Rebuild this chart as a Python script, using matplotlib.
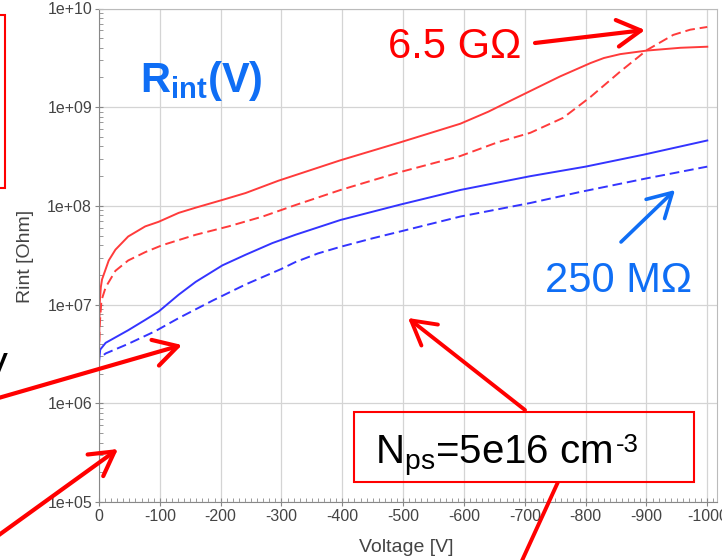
import numpy as np
import matplotlib
matplotlib.use('Agg')
import matplotlib.pyplot as plt
from matplotlib.patches import Rectangle
from matplotlib.ticker import LogLocator, MultipleLocator, FuncFormatter, NullFormatter

plt.rcParams['font.family'] = ['Liberation Sans', 'DejaVu Sans']
plt.rcParams['axes.unicode_minus'] = False
plt.rcParams['mathtext.fontset'] = 'custom'
plt.rcParams['mathtext.rm'] = 'Liberation Sans'
plt.rcParams['mathtext.it'] = 'Liberation Sans:italic'
plt.rcParams['mathtext.bf'] = 'Liberation Sans:bold'

# Interstrip resistance vs bias voltage
volt_red_solid = [0, -1, -3, -5, -16, -27, -48, -76, -98, -131, -159, -203, -241, -295,
                  -397, -495, -594, -640, -681, -758, -808, -830, -857, -901, -956, -1000]
rint_red_solid = [3.0e6, 1.0e7, 1.5e7, 1.8e7, 2.8e7, 3.6e7, 4.9e7, 6.2e7, 6.9e7, 8.5e7,
                  9.6e7, 1.15e8, 1.35e8, 1.8e8, 2.9e8, 4.4e8, 6.8e8, 9.0e8, 1.2e9, 2.05e9,
                  2.8e9, 3.15e9, 3.45e9, 3.75e9, 4.0e9, 4.1e9]

volt_red_dash = [0, -1, -3, -4, -11, -27, -48, -76, -104, -159, -213, -269, -323, -397,
                 -495, -594, -655, -709, -763, -808, -857, -901, -944, -972, -1000]
rint_red_dash = [3.0e6, 6.0e6, 9.0e6, 1.1e7, 1.5e7, 2.2e7, 2.8e7, 3.4e7, 4.0e7, 5.1e7,
                 6.2e7, 7.8e7, 1.02e8, 1.45e8, 2.2e8, 3.2e8, 4.4e8, 5.5e8, 7.8e8, 1.27e9,
                 2.3e9, 3.8e9, 5.4e9, 6.1e9, 6.5e9]

volt_blue_solid = [0, -2, -11, -48, -76, -98, -131, -159, -203, -241, -285, -323, -397,
                   -495, -594, -709, -800, -895, -1000]
rint_blue_solid = [2.6e6, 3.5e6, 4.1e6, 5.5e6, 7.0e6, 8.5e6, 1.26e7, 1.7e7, 2.5e7, 3.2e7,
                   4.2e7, 5.1e7, 7.2e7, 1.03e8, 1.45e8, 2.0e8, 2.5e8, 3.3e8, 4.6e8]

volt_blue_dash = [-8, -11, -48, -93, -131, -187, -241, -300, -323, -360, -397, -450, -495,
                  -594, -709, -790, -900, -1000]
rint_blue_dash = [3.1e6, 3.2e6, 4.0e6, 5.4e6, 7.3e6, 1.1e7, 1.6e7, 2.3e7, 2.7e7, 3.3e7,
                  3.85e7, 4.7e7, 5.5e7, 7.8e7, 1.07e8, 1.38e8, 1.9e8, 2.5e8]

xticks = list(range(0, -1001, -100))

RED = '#ff3b3b'
BLUE = '#3434ff'
ANN_RED = '#ff0000'
ANN_BLUE = '#0f6ef5'
GREY = '#444444'

fig = plt.figure(figsize=(7.22, 5.6), dpi=100)
ax = fig.add_axes([99 / 722, 1 - 502 / 560, 618 / 722, 493.5 / 560])

ax.plot(volt_red_solid, rint_red_solid, color=RED, lw=1.4)
ax.plot(volt_red_dash, rint_red_dash, color=RED, lw=1.4, ls=(0, (5, 2.5)))
ax.plot(volt_blue_solid, rint_blue_solid, color=BLUE, lw=1.4)
ax.plot(volt_blue_dash, rint_blue_dash, color=BLUE, lw=1.4, ls=(0, (5, 2.5)))

ax.set_yscale('log')
ax.set_ylim(1e5, 1e10)
ax.set_xlim(0, -1016)
ax.set_xticks(xticks)
ax.xaxis.set_minor_locator(MultipleLocator(10))
ax.yaxis.set_major_locator(LogLocator(base=10, numticks=10))
ax.yaxis.set_minor_locator(LogLocator(base=10, subs=np.arange(2, 10), numticks=50))
ax.yaxis.set_minor_formatter(NullFormatter())
ax.yaxis.set_major_formatter(FuncFormatter(lambda y, _: '1e+%02d' % int(round(np.log10(y)))))

ax.grid(True, which='major', color='#d4d4d4', lw=0.9)
ax.set_axisbelow(True)
ax.tick_params(which='major', direction='inout', length=6, width=0.8, color='#888888',
               labelsize=11.5, labelcolor=GREY, pad=2)
ax.tick_params(which='minor', direction='in', length=3, width=0.6, color='#888888')
for side in ['left', 'bottom']:
    ax.spines[side].set_color('#888888')
for side in ['top', 'right']:
    ax.spines[side].set_color('#bbbbbb')

# slide overlay in pixel coordinates
ov = fig.add_axes([0, 0, 1, 1], zorder=5)
ov.set_xlim(0, 722)
ov.set_ylim(560, 0)
ov.axis('off')
ov.patch.set_alpha(0)

ov.text(406, 548, 'Voltage [V]', ha='center', va='center', fontsize=14, color=GREY)
ov.text(26, 256, 'Rint [Ohm]', ha='center', va='center', rotation=90, fontsize=14, color=GREY)

ov.add_patch(Rectangle((-30, 15), 35, 173, fill=False, ec=ANN_RED, lw=1.5, clip_on=False))
ov.text(8, 380, 'V', ha='right', va='baseline', fontsize=28, color='black')

ov.text(140, 92, r'$\mathbf{R_{int}(V)}$', ha='left', va='baseline', fontsize=30, color=ANN_BLUE)
ov.text(388, 58, '6.5 GΩ', ha='left', va='baseline', fontsize=30, color=ANN_RED)
ov.text(545, 292, '250 MΩ', ha='left', va='baseline', fontsize=30, color=ANN_BLUE)

ov.add_patch(Rectangle((354, 412), 340, 70, fill=False, ec=ANN_RED, lw=1.5))
nps = ov.text(375, 463, r'N$_{\mathregular{ps}}$=5e16 cm', ha='left',
              va='baseline', fontsize=29, color='black')
# superscript exponent placed right after "cm" (plain hyphen, not a math minus)
fig.canvas.draw()
bb = nps.get_window_extent().transformed(ov.transData.inverted())
ov.text(bb.x1 + 3, 452, '-3', ha='left', va='baseline', fontsize=18.5, color='black')
ov.plot([558, 520], [482, 565], color=ANN_RED, lw=2.8, solid_capstyle='butt')


def arrow(tip, tail, color, lw):
    ov.annotate('', xy=tip, xytext=tail,
                arrowprops=dict(arrowstyle='->,head_length=0.85,head_width=0.48',
                                color=color, lw=lw, mutation_scale=20,
                                shrinkA=0, shrinkB=0))


arrow((645, 30), (535, 43), ANN_RED, 3.0)
arrow((675, 190), (621, 242), ANN_BLUE, 2.6)
arrow((182, 345), (-5, 399), ANN_RED, 3.0)
arrow((118, 449), (-8, 540), ANN_RED, 3.0)
arrow((408, 318), (525, 410), ANN_RED, 2.8)

fig.savefig('out.png', dpi=100)
